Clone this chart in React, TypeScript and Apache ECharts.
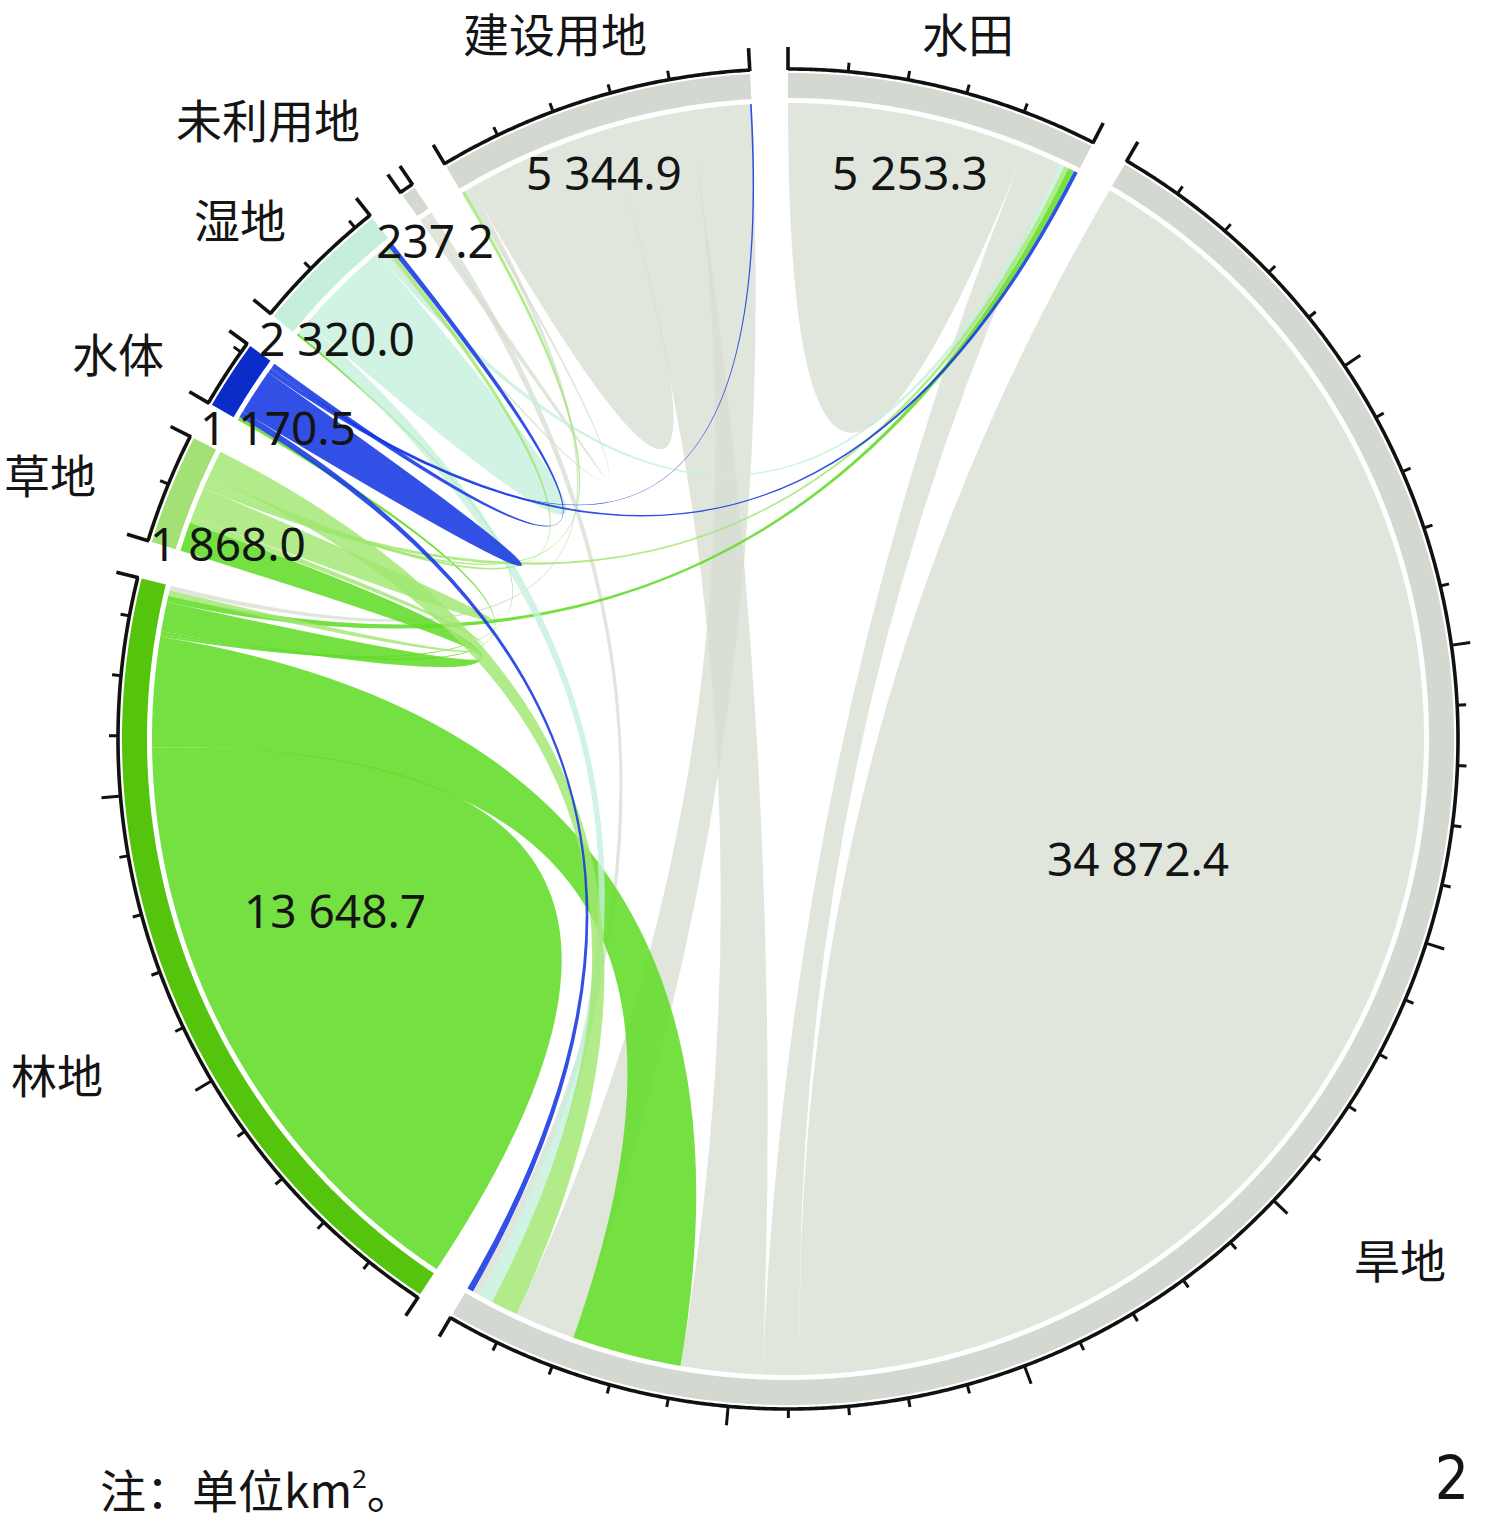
import React, { useEffect, useRef } from 'react';
import * as echarts from 'echarts';

// ---------- data ----------
const SECTORS = ['水田', '旱地', '林地', '草地', '水体', '湿地', '未利用地', '建设用地'];
const AREAS = [5253.3, 34872.4, 13648.7, 1868.0, 1170.5, 2320.0, 237.2, 5344.9];
const VALUE_LABELS = ['5 253.3', '34 872.4', '13 648.7', '1 868.0', '1 170.5', '2 320.0', '237.2', '5 344.9'];

// transitions: from -> to, km²
const LINK_FROM = ['水田', '水田', '湿地', '水体', '草地', '林地', '旱地', '旱地', '林地', '建设用地',
  '草地', '湿地', '水体', '未利用地', '建设用地', '建设用地', '水体', '建设用地', '林地', '林地',
  '林地', '林地', '草地', '草地', '草地', '草地', '水体', '水体', '湿地', '未利用地'];
const LINK_TO = ['水田', '旱地', '水田', '水田', '水田', '水田', '旱地', '建设用地', '旱地', '旱地',
  '旱地', '旱地', '旱地', '旱地', '湿地', '林地', '建设用地', '建设用地', '林地', '水体',
  '湿地', '草地', '林地', '草地', '湿地', '建设用地', '水体', '湿地', '湿地', '未利用地'];
const LINK_VALUE = [4243.3, 660, 90, 70, 80, 110, 28792.4, 1440, 1940, 1070,
  480, 250, 110, 130, 50, 80, 30, 2614.9, 10798.7, 60,
  40, 520, 100, 548, 80, 60, 810.5, 90, 1720, 107.2];

// clockwise order of link ends inside each sector
const END_ORDER = [
  [0, 1, 2, 4, 5, 3],
  [6, 1, 7, 8, 9, 10, 11, 13, 12],
  [18, 8, 20, 19, 21, 5, 22, 15],
  [21, 22, 23, 4, 25, 24, 10],
  [19, 12, 26, 3, 16, 27],
  [20, 11, 28, 2, 14, 24, 27],
  [29, 13],
  [25, 14, 15, 17, 7, 9, 16],
];

const GAP = 634; // gap between sectors, in km² of angle
const TICK_MINOR = 1000;
const TICK_MAJOR = 5000;

const TRACK_COLORS = ['#d3d8d0', '#d3d8d0', '#55c40c', '#a3e176', '#0b2cc9', '#c6efdb', '#d3d8d0', '#d3d8d0'];
const RIBBON_COLORS = [
  'rgba(214,221,208,0.72)', 'rgba(214,221,208,0.72)', 'rgba(98,220,40,0.88)', 'rgba(160,230,112,0.82)',
  'rgba(22,56,226,0.88)', 'rgba(196,240,220,0.8)', 'rgba(214,221,208,0.72)', 'rgba(214,221,208,0.72)',
];
const DRAW_RANK = [0, 0, 1, 3, 4, 2, 0, 0];

// ---------- layout from data ----------
function layout() {
  const starts: number[] = [];
  let acc = 0;
  AREAS.forEach((a) => {
    starts.push(acc);
    acc += a + GAP;
  });
  const total = acc;
  const ends: Record<string, [number, number]> = {};
  END_ORDER.forEach((order, si) => {
    const sum = order.reduce((s, li) => s + LINK_VALUE[li], 0);
    const k = AREAS[si] / sum;
    let pos = starts[si];
    order.forEach((li) => {
      const w = LINK_VALUE[li] * k;
      const self = LINK_FROM[li] === LINK_TO[li];
      const role = self ? 'self' : SECTORS.indexOf(LINK_FROM[li]) === si ? 'src' : 'tgt';
      ends[li + role] = [pos, pos + w];
      pos += w;
    });
  });
  return { starts, total, ends };
}

const CENTER = [788, 739];
const R_MAX = 700;
const R_RIB = 636;
const R_TRACK_IN = 641;
const R_TRACK_OUT = 666;
const R_AXIS = 670;

export default function App() {
  const ref = useRef<HTMLDivElement>(null);
  useEffect(() => {
    const chart = echarts.init(ref.current!, null, { renderer: 'svg' });
    const { starts, total, ends } = layout();
    const step = total / 1440;

    const ribbonData: number[][] = [];
    LINK_VALUE.forEach((v, li) => {
      const si = SECTORS.indexOf(LINK_FROM[li]);
      if (LINK_FROM[li] === LINK_TO[li]) {
        const e = ends[li + 'self'];
        ribbonData.push([e[0], e[1], e[0], e[1], si, 1, v]);
      } else {
        const s = ends[li + 'src'];
        const t = ends[li + 'tgt'];
        ribbonData.push([s[0], s[1], t[0], t[1], si, 0, v]);
      }
    });
    ribbonData.sort((a, b) => DRAW_RANK[a[4]] - DRAW_RANK[b[4]] || b[6] - a[6]);

    const sectorData = AREAS.map((a, i) => [starts[i], starts[i] + a, a, i]);

    const makeArc = (api: any) => (r: number, f: number, t: number, move: boolean) => {
      const n = Math.max(2, Math.ceil(Math.abs(t - f) / step));
      let d = '';
      for (let i = 0; i <= n; i++) {
        const p = api.coord([r, f + ((t - f) * i) / n]);
        d += (i === 0 && move ? 'M' : 'L') + p[0].toFixed(2) + ' ' + p[1].toFixed(2) + ' ';
      }
      return d;
    };

    const txt = (text: string, x: number, y: number, font: string, align = 'center', extra: any = {}) => ({
      type: 'text',
      x,
      y,
      z: 100,
      zlevel: 0,
      silent: true,
      style: { text, font, fill: '#141414', textAlign: align, textVerticalAlign: 'middle', ...extra },
    });

    const NAME_POS: [number, number][] = [
      [968, 32], [1400, 1258], [57, 1073], [50, 473], [118, 352], [240, 218], [268, 118], [555, 32],
    ];
    const VALUE_POS: [number, number][] = [
      [910, 172], [1138, 858], [335, 910], [228, 543], [278, 427], [337, 338], [435, 240], [604, 172],
    ];
    const cjk = '46px "Noto Sans CJK SC", sans-serif';
    const num = '46px "Noto Sans", sans-serif';

    const option: any = {
      animation: false,
      backgroundColor: '#ffffff',
      polar: { center: CENTER, radius: R_MAX },
      angleAxis: { type: 'value', min: 0, max: total, startAngle: 90, clockwise: true, show: false },
      radiusAxis: { type: 'value', min: 0, max: R_MAX, show: false },
      series: [
        {
          type: 'custom',
          coordinateSystem: 'polar',
          silent: true,
          z: 1,
          data: sectorData,
          renderItem: (params: any, api: any) => {
            const arc = makeArc(api);
            const s = api.value(0);
            const e = api.value(1);
            const idx = api.value(3);
            const d = arc(R_TRACK_OUT, s, e, true) + arc(R_TRACK_IN, e, s, false) + 'Z';
            return { type: 'path', shape: { pathData: d }, style: { fill: TRACK_COLORS[idx] } };
          },
        },
        {
          type: 'custom',
          coordinateSystem: 'polar',
          silent: true,
          z: 2,
          data: ribbonData,
          renderItem: (params: any, api: any) => {
            const arc = makeArc(api);
            const a0 = api.value(0);
            const a1 = api.value(1);
            const b0 = api.value(2);
            const b1 = api.value(3);
            const si = api.value(4);
            const self = api.value(5);
            const c = api.coord([0, 0]);
            const cs = c[0].toFixed(2) + ' ' + c[1].toFixed(2);
            let d = arc(R_RIB, a0, a1, true);
            if (self) {
              const p = api.coord([R_RIB, a0]);
              d += 'Q' + cs + ' ' + p[0].toFixed(2) + ' ' + p[1].toFixed(2) + ' Z';
            } else {
              const pb = api.coord([R_RIB, b0]);
              d += 'Q' + cs + ' ' + pb[0].toFixed(2) + ' ' + pb[1].toFixed(2) + ' ';
              d += arc(R_RIB, b0, b1, false);
              const pa = api.coord([R_RIB, a0]);
              d += 'Q' + cs + ' ' + pa[0].toFixed(2) + ' ' + pa[1].toFixed(2) + ' Z';
            }
            return { type: 'path', shape: { pathData: d }, style: { fill: RIBBON_COLORS[si] } };
          },
        },
        {
          type: 'custom',
          coordinateSystem: 'polar',
          silent: true,
          z: 3,
          data: sectorData,
          renderItem: (params: any, api: any) => {
            const s = api.value(0);
            const e = api.value(1);
            const area = api.value(2);
            const n = Math.max(2, Math.ceil((e - s) / step));
            const pts: number[][] = [];
            for (let i = 0; i <= n; i++) pts.push(api.coord([R_AXIS, s + ((e - s) * i) / n]));
            const children: any[] = [
              { type: 'polyline', shape: { points: pts }, style: { stroke: '#111', lineWidth: 3.6, fill: 'none', lineJoin: 'round' } },
            ];
            const tick = (a: number, len: number, w: number) => {
              const p1 = api.coord([R_AXIS - 1, a]);
              const p2 = api.coord([R_AXIS + len, a]);
              children.push({
                type: 'line',
                shape: { x1: p1[0], y1: p1[1], x2: p2[0], y2: p2[1] },
                style: { stroke: '#111', lineWidth: w },
              });
            };
            tick(s, 22, 3.6);
            tick(e, 22, 3.6);
            for (let v = TICK_MINOR; v < area; v += TICK_MINOR) {
              const major = v % TICK_MAJOR === 0;
              const rem = area - v;
              if (major ? rem < 400 : rem < 150) continue;
              tick(s + v, major ? 19 : 9, 3);
            }
            return { type: 'group', children };
          },
        },
      ],
      graphic: {
        elements: [
          ...SECTORS.map((name, i) => txt(name, NAME_POS[i][0], NAME_POS[i][1], cjk)),
          ...VALUE_LABELS.map((v, i) => txt(v, VALUE_POS[i][0], VALUE_POS[i][1], num)),
          txt('注：单位km{sup|2}。', 100, 1488, '46px "Noto Sans CJK SC", sans-serif', 'left', {
            rich: { sup: { font: '26px "Noto Sans", sans-serif', fill: '#141414', verticalAlign: 'top', padding: [0, 0, 16, 0] } },
          }),
          txt('2', 1452, 1478, '60px "Liberation Sans Narrow", "DejaVu Sans Condensed", sans-serif'),
        ],
      },
    };
    chart.setOption(option);
    return () => chart.dispose();
  }, []);
  return (
    <div
      ref={ref}
      style={{ position: 'fixed', left: 0, top: 0, width: 1488, height: 1522, background: '#fff' }}
    />
  );
}
